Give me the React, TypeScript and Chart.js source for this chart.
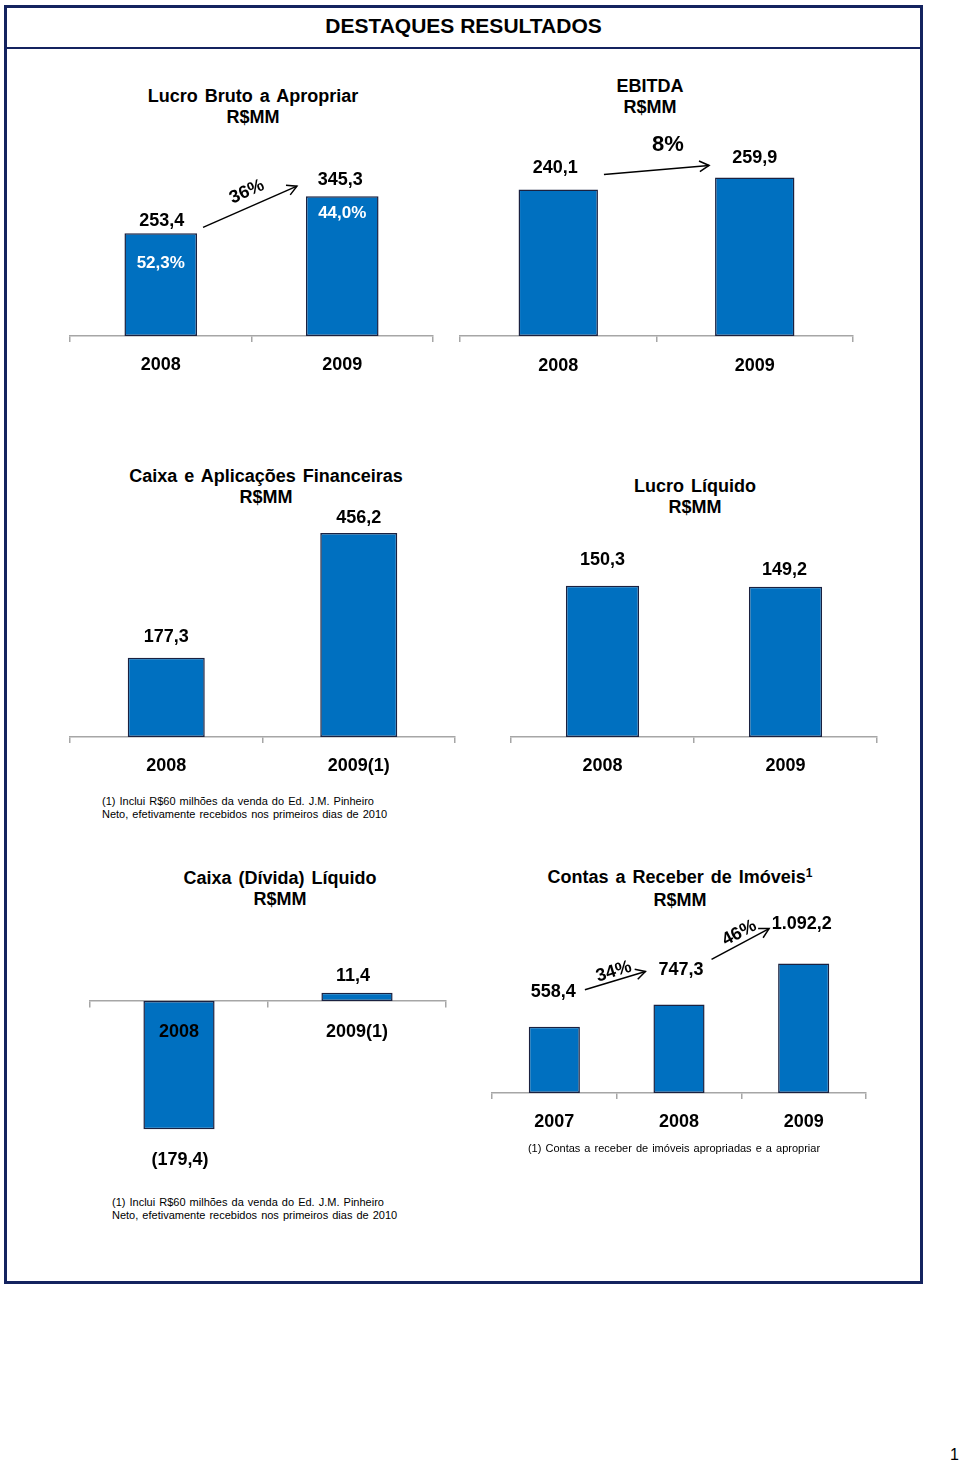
import React, { useEffect, useRef } from "react";
import { Chart, registerables } from "chart.js";

Chart.register(...registerables);

const FONT = '"Liberation Sans", Arial, Helvetica, sans-serif';
const BAR_FILL = "#0070c0";
const BAR_EDGE = "#1a2140";
const AXIS_GREY = "#a6a6a6";
const NAVY = "#14235f";

// ---------------- data ----------------
const lucroBrutoYears = ["2008", "2009"];
const lucroBrutoValues = [253.4, 345.3];
const lucroBrutoMargins = ["52,3%", "44,0%"];
const lucroBrutoGrowth = ["36%"];

const ebitdaYears = ["2008", "2009"];
const ebitdaValues = [240.1, 259.9];
const ebitdaGrowth = ["8%"];

const caixaAplicYears = ["2008", "2009(1)"];
const caixaAplicValues = [177.3, 456.2];

const lucroLiqYears = ["2008", "2009"];
const lucroLiqValues = [150.3, 149.2];

const caixaLiqYears = ["2008", "2009(1)"];
const caixaLiqValues = [-179.4, 11.4];

const contasYears = ["2007", "2008", "2009"];
const contasValues = [558.4, 747.3, 1092.2];
const contasGrowth = ["34%", "46%"];

function fmtBR(v: number): string {
  const abs = Math.abs(v).toFixed(1);
  const [intPart, dec] = abs.split(".");
  const withDots = intPart.replace(/\B(?=(\d{3})+(?!\d))/g, ".");
  const s = `${withDots},${dec}`;
  return v < 0 ? `(${s})` : s;
}

type Arrow = {
  from: number;
  to: number;
  d0: [number, number];
  d1: [number, number];
  text: string;
  t: [number, number];
  rot: number;
  size: number;
};

type PanelProps = {
  categories: string[];
  values: number[];
  min: number;
  max: number;
  ppu: number;
  axisY: number;
  ax0: number;
  ax1: number;
  cx: number;
  cy: number;
  cw: number;
  ch: number;
  zeroAxis?: boolean;
  tickPad: number;
  barPct: number;
  labelDy: number[];
  labelDx: number[];
  inner?: string[];
  innerDy?: number[];
  arrows?: Arrow[];
};

function drawArrow(ctx: CanvasRenderingContext2D, x0: number, y0: number, x1: number, y1: number) {
  ctx.beginPath();
  ctx.moveTo(x0, y0);
  ctx.lineTo(x1, y1);
  ctx.stroke();
  const a = Math.atan2(y1 - y0, x1 - x0);
  const L = 11;
  const w = 0.5;
  ctx.beginPath();
  ctx.moveTo(x1 - L * Math.cos(a - w), y1 - L * Math.sin(a - w));
  ctx.lineTo(x1, y1);
  ctx.lineTo(x1 - L * Math.cos(a + w), y1 - L * Math.sin(a + w));
  ctx.stroke();
}

function BarPanel(p: PanelProps) {
  const ref = useRef<HTMLCanvasElement | null>(null);
  useEffect(() => {
    const canvas = ref.current;
    if (!canvas) return;
    const areaTop = p.axisY - p.max * p.ppu;
    const areaBottom = p.axisY - p.min * p.ppu;
    const axisH = p.zeroAxis ? 0 : 6 + 18 * 1.2 + 2 * p.tickPad;
    const padding = {
      left: p.ax0 - p.cx,
      right: p.cx + p.cw - p.ax1,
      top: areaTop - p.cy,
      bottom: p.cy + p.ch - areaBottom - axisH,
    };
    const labelPlugin = {
      id: "valueLabels",
      afterDatasetsDraw(chart: any) {
        const ctx: CanvasRenderingContext2D = chart.ctx;
        const meta = chart.getDatasetMeta(0);
        ctx.save();
        ctx.textAlign = "center";
        ctx.textBaseline = "middle";
        const rects: { l: number; r: number; t: number; b: number; x: number }[] = [];
        meta.data.forEach((el: any, i: number) => {
          const { x, y, base, width } = el.getProps(["x", "y", "base", "width"], true);
          const top = Math.min(y, base);
          const bottom = Math.max(y, base);
          rects.push({ l: x - width / 2, r: x + width / 2, t: top, b: bottom, x });
          const v = p.values[i];
          ctx.font = `bold 18px ${FONT}`;
          ctx.fillStyle = "#000";
          if (v >= 0) ctx.fillText(fmtBR(v), x + p.labelDx[i], top - p.labelDy[i]);
          else ctx.fillText(fmtBR(v), x + p.labelDx[i], bottom + p.labelDy[i]);
          if (p.inner && p.innerDy) {
            ctx.font = `bold 17px ${FONT}`;
            ctx.fillStyle = "#ffffff";
            ctx.fillText(p.inner[i], x, top + p.innerDy[i]);
          }
        });
        (p.arrows || []).forEach((a) => {
          const r0 = rects[a.from];
          const r1 = rects[a.to];
          const x0 = r0.r + a.d0[0];
          const y0 = r0.t + a.d0[1];
          const x1 = r1.l + a.d1[0];
          const y1 = r1.t + a.d1[1];
          ctx.strokeStyle = "#000";
          ctx.lineWidth = 1.5;
          drawArrow(ctx, x0, y0, x1, y1);
          ctx.save();
          ctx.translate((x0 + x1) / 2 + a.t[0], (y0 + y1) / 2 + a.t[1]);
          ctx.rotate((a.rot * Math.PI) / 180);
          ctx.font = `bold ${a.size}px ${FONT}`;
          ctx.fillStyle = "#000";
          ctx.fillText(a.text, 0, 0);
          ctx.restore();
        });
        ctx.restore();
      },
    };
    const chart = new Chart(canvas, {
      type: "bar",
      data: {
        labels: p.categories,
        datasets: [
          {
            data: p.values,
            backgroundColor: BAR_FILL,
            borderColor: BAR_EDGE,
            borderWidth: 1.5,
            borderSkipped: false,
            categoryPercentage: 1,
            barPercentage: p.barPct,
          },
        ],
      },
      options: {
        responsive: false,
        animation: false,
        devicePixelRatio: 1,
        layout: { padding },
        plugins: { legend: { display: false }, tooltip: { enabled: false }, title: { display: false } },
        scales: {
          x: {
            position: p.zeroAxis ? ({ y: 0 } as any) : "bottom",
            offset: true,
            grid: {
              display: true,
              drawOnChartArea: false,
              drawTicks: true,
              tickLength: 6,
              color: AXIS_GREY,
              lineWidth: 1.5,
              offset: true,
            },
            border: { display: true, color: AXIS_GREY, width: 1.5 },
            ticks: {
              z: p.zeroAxis ? 2 : 0,
              color: "#000",
              font: { family: FONT, size: 18, weight: "bold", lineHeight: 1.2 },
              padding: p.tickPad,
              autoSkip: false,
              maxRotation: 0,
              minRotation: 0,
            },
          },
          y: { display: false, min: p.min, max: p.max },
        },
      },
      plugins: [labelPlugin],
    } as any);
    return () => chart.destroy();
  }, []);
  return (
    <canvas
      ref={ref}
      width={p.cw}
      height={p.ch}
      style={{ position: "absolute", left: p.cx, top: p.cy, width: p.cw, height: p.ch }}
    />
  );
}

function Title({ cx, y, children }: { cx: number; y: number; children: React.ReactNode }) {
  return (
    <div
      style={{
        position: "absolute",
        left: cx - 250,
        top: y - 10.5,
        width: 500,
        textAlign: "center",
        fontFamily: FONT,
        fontWeight: "bold",
        fontSize: 18,
        lineHeight: "21px",
        wordSpacing: 2,
        color: "#000",
      }}
    >
      {children}
    </div>
  );
}

function Note({ left, y, lines, center }: { left: number; y: number; lines: string[]; center?: boolean }) {
  return (
    <div
      style={{
        position: "absolute",
        left: center ? left - 250 : left,
        width: center ? 500 : undefined,
        textAlign: center ? "center" : "left",
        top: y - 6.5,
        fontFamily: FONT,
        fontSize: 11,
        lineHeight: "13px",
        whiteSpace: "pre",
        wordSpacing: 1,
        color: "#000",
      }}
    >
      {lines.map((l, i) => (
        <div key={i}>{l}</div>
      ))}
    </div>
  );
}

export default function App() {
  return (
    <div
      style={{
        position: "absolute",
        left: 0,
        top: 0,
        width: 960,
        height: 1462,
        background: "#fff",
        overflow: "hidden",
        fontFamily: FONT,
      }}
    >
      {/* frame */}
      <div
        style={{
          position: "absolute",
          left: 4,
          top: 5,
          width: 919,
          height: 1279,
          boxSizing: "border-box",
          border: `3px solid ${NAVY}`,
        }}
      />
      <div style={{ position: "absolute", left: 4, top: 47, width: 919, height: 2, background: NAVY }} />
      <div
        style={{
          position: "absolute",
          left: 4,
          top: 14,
          width: 919,
          textAlign: "center",
          fontFamily: FONT,
          fontWeight: "bold",
          fontSize: 21,
          lineHeight: "24px",
          color: "#000",
        }}
      >
        DESTAQUES RESULTADOS
      </div>

      <Title cx={253} y={96}>
        <div>Lucro Bruto a Apropriar</div>
        <div>R$MM</div>
      </Title>
      <Title cx={650} y={86}>
        <div>EBITDA</div>
        <div>R$MM</div>
      </Title>
      <Title cx={266} y={476}>
        <div>Caixa e Aplicações  Financeiras</div>
        <div>R$MM</div>
      </Title>
      <Title cx={695} y={486}>
        <div>Lucro Líquido</div>
        <div>R$MM</div>
      </Title>
      <Title cx={280} y={878}>
        <div>Caixa (Dívida) Líquido</div>
        <div>R$MM</div>
      </Title>
      <Title cx={680} y={877}>
        <div>
          Contas a Receber de Imóveis
          <span style={{ fontSize: 12, position: "relative", top: -6 }}>1</span>
        </div>
        <div>R$MM</div>
      </Title>

      <BarPanel
        categories={lucroBrutoYears}
        values={lucroBrutoValues}
        min={0}
        max={400}
        ppu={0.405}
        axisY={336}
        ax0={70}
        ax1={433}
        cx={40}
        cy={130}
        cw={420}
        ch={270}
        tickPad={12}
        barPct={0.4}
        labelDy={[12.5, 16.5]}
        labelDx={[1, -2]}
        inner={lucroBrutoMargins}
        innerDy={[29.5, 17.6]}
        arrows={[{ from: 0, to: 1, d0: [6, -6], d1: [-9, -10], text: lucroBrutoGrowth[0], t: [-3, -15], rot: -24, size: 18 }]}
      />
      <BarPanel
        categories={ebitdaYears}
        values={ebitdaValues}
        min={0}
        max={300}
        ppu={0.61}
        axisY={336}
        ax0={460}
        ax1={853}
        cx={440}
        cy={120}
        cw={440}
        ch={280}
        tickPad={13}
        barPct={0.404}
        labelDy={[21.7, 19]}
        labelDx={[-3, 0]}
        arrows={[{ from: 0, to: 1, d0: [6, -15], d1: [-6, -12], text: ebitdaGrowth[0], t: [11.5, -25], rot: 0, size: 22 }]}
      />
      <BarPanel
        categories={caixaAplicYears}
        values={caixaAplicValues}
        min={0}
        max={500}
        ppu={0.447}
        axisY={737}
        ax0={70}
        ax1={455}
        cx={40}
        cy={495}
        cw={440}
        ch={300}
        tickPad={12.5}
        barPct={0.4}
        labelDy={[21, 15]}
        labelDx={[0, 0]}
      />
      <BarPanel
        categories={lucroLiqYears}
        values={lucroLiqValues}
        min={0}
        max={200}
        ppu={1.007}
        axisY={737}
        ax0={511}
        ax1={877}
        cx={480}
        cy={520}
        cw={420}
        ch={280}
        tickPad={12.5}
        barPct={0.4}
        labelDy={[26, 17]}
        labelDx={[0, -1]}
      />
      <BarPanel
        categories={caixaLiqYears}
        values={caixaLiqValues}
        min={-200}
        max={50}
        ppu={0.715}
        axisY={1001}
        ax0={90}
        ax1={446}
        cx={60}
        cy={940}
        cw={410}
        ch={240}
        zeroAxis
        tickPad={14}
        barPct={0.4}
        labelDy={[30.7, 17.3]}
        labelDx={[1, -4]}
      />
      <BarPanel
        categories={contasYears}
        values={contasValues}
        min={0}
        max={1400}
        ppu={0.1185}
        axisY={1093}
        ax0={492}
        ax1={866}
        cx={470}
        cy={890}
        cw={420}
        ch={265}
        tickPad={12}
        barPct={0.41}
        labelDy={[35, 34, 40]}
        labelDx={[-1, 2, -2]}
        arrows={[
          { from: 0, to: 1, d0: [5, -37], d1: [-8, -33], text: contasGrowth[0], t: [-1.4, -9], rot: -17, size: 18 },
          { from: 1, to: 2, d0: [7, -45], d1: [-9, -35], text: contasGrowth[1], t: [-1, -11], rot: -28, size: 18 },
        ]}
      />

      <Note
        left={102}
        y={801}
        lines={["(1) Inclui R$60 milhões da venda do Ed. J.M. Pinheiro", "Neto, efetivamente recebidos nos primeiros dias de 2010"]}
      />
      <Note
        left={112}
        y={1202}
        lines={["(1) Inclui R$60 milhões da venda do Ed. J.M. Pinheiro", "Neto, efetivamente recebidos nos primeiros dias de 2010"]}
      />
      <Note left={674} y={1148} center lines={["(1) Contas a receber de imóveis apropriadas e a apropriar"]} />

      <div
        style={{
          position: "absolute",
          left: 950,
          top: 1446,
          fontFamily: FONT,
          fontSize: 16,
          lineHeight: "18px",
          color: "#000",
        }}
      >
        1
      </div>
    </div>
  );
}
